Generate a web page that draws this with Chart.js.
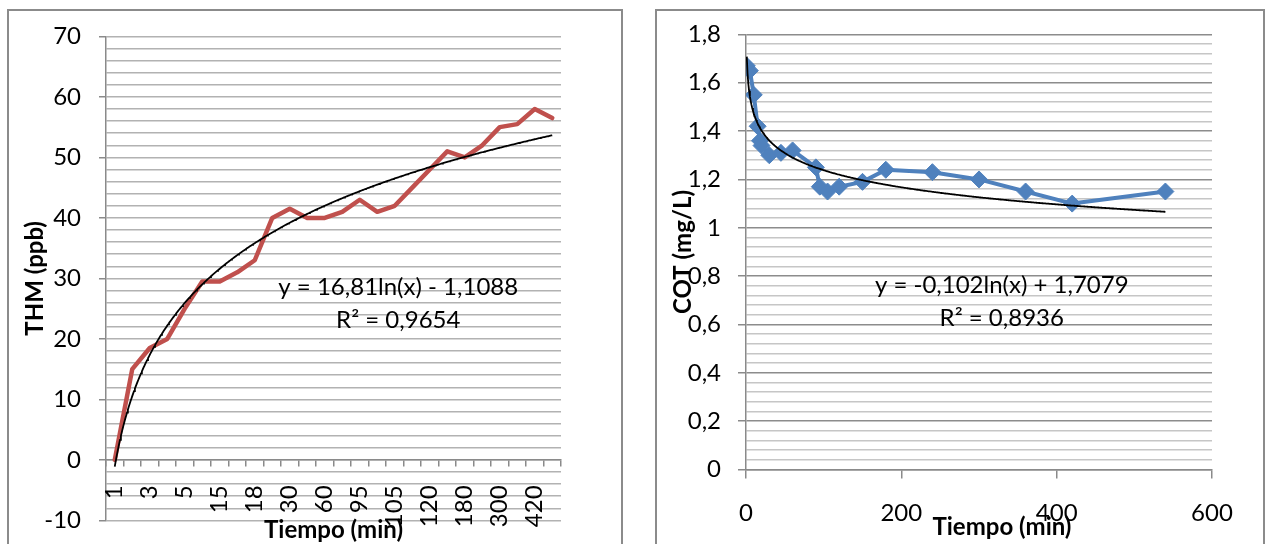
<!DOCTYPE html>
<html>
<head>
<meta charset="utf-8">
<script src="https://cdn.jsdelivr.net/npm/chart.js@4.4.1/dist/chart.umd.min.js"></script>
<style>
  html, body { margin: 0; padding: 0; background: #fff; width: 1272px; height: 544px; overflow: hidden; }
  .frame { position: absolute; border: 2px solid #8b8b8b; background: #fff; overflow: hidden; }
  #frameThm { left: 7px; top: 9px; width: 612px; height: 620px; }
  #frameCot { left: 655px; top: 9px; width: 606px; height: 620px; }
  canvas { display: block; position: absolute; left: 0; }
  #thmChart { top: -7.4px; }
  #cotChart { top: -8.2px; }
</style>
</head>
<body>
<div class="frame" id="frameThm"><canvas id="thmChart" width="612" height="620"></canvas></div>
<div class="frame" id="frameCot"><canvas id="cotChart" width="606" height="620"></canvas></div>
<script>
// Sampling times (min) used as categories on the THM chart
const categories = ['1', '2', '3', '4', '5', '10', '15', '16', '18', '20', '30', '45', '60',
                    '90', '95', '100', '105', '110', '120', '150', '180', '240', '300', '360', '420', '540'];
// Trihalomethanes (ppb)
const thm = [0, 15, 18.5, 20, 25, 29.5, 29.5, 31, 33, 40, 41.5, 40, 40, 41, 43, 41, 42, 45, 48, 51, 50, 52, 55, 55.5, 58, 56.5];
// Logarithmic fit for THM: y = a ln(x) + b (x = category index)
const thmFit = { a: 16.81, b: -1.1088, r2: 0.9654 };

// Total organic carbon: times (min) and values (mg/L)
const cotTime = [1, 5, 10, 15, 18, 20, 30, 45, 60, 90, 95, 105, 120, 150, 180, 240, 300, 360, 420, 540];
const cot = [1.67, 1.65, 1.55, 1.42, 1.36, 1.34, 1.30, 1.31, 1.32, 1.25, 1.17, 1.15, 1.17, 1.19, 1.24, 1.23, 1.20, 1.15, 1.10, 1.15];
// Logarithmic fit for COT
const cotFit = { a: -0.102, b: 1.7079, r2: 0.8936 };

// Axis tick settings
const thmAxis = { min: -10, max: 70, step: 2, major: 10 };
const cotAxis = { min: 0, max: 1.8, step: 0.04, major: 0.2 };
const timeAxis = { min: 0, max: 600, step: 200 };

Chart.defaults.font.family = 'Lato, "Liberation Sans", sans-serif';
Chart.defaults.color = '#000';

const comma = v => String(v).replace('.', ',');
const eqText = f => `y = ${comma(f.a)}ln(x) ${f.b < 0 ? '-' : '+'} ${comma(Math.abs(f.b))}`;
const r2Text = f => `R² = ${comma(f.r2)}`;

function logCurve(f, from, to, step) {
  const pts = [];
  for (let x = from; x <= to + 1e-9; x += step) pts.push({ x: x, y: f.a * Math.log(x) + f.b });
  return pts;
}

// Draws the trendline equation and R² at a point given in data units
function equationLabel(id, xScale, yScale, xv, yv, lines) {
  return {
    id: id,
    afterDatasetsDraw(chart) {
      const ctx = chart.ctx;
      const cx = chart.scales[xScale].getPixelForValue(xv);
      const cy = chart.scales[yScale].getPixelForValue(yv);
      ctx.save();
      ctx.font = '24px Lato, "Liberation Sans", sans-serif';
      ctx.fillStyle = '#000';
      ctx.textAlign = 'center';
      ctx.textBaseline = 'middle';
      lines.forEach((t, i) => ctx.fillText(t, cx, cy + i * 33));
      ctx.restore();
    }
  };
}

const axisGray = '#8a8a8a';
const titleFont = { size: 24, weight: 'bold' };
const tickFont = { size: 24 };
const isMajor = (v, m) => Math.abs(Math.round(v / m) * m - v) < 1e-6;

// ---- THM vs time (line chart on categories) ----
new Chart(document.getElementById('thmChart'), {
  type: 'line',
  data: {
    labels: categories,
    datasets: [
      {
        label: 'Log. (THM)',
        data: logCurve(thmFit, 1, categories.length, 0.05),
        xAxisID: 'xt', yAxisID: 'y',
        borderColor: '#000', borderWidth: 1.8,
        pointRadius: 0, fill: false, order: 0
      },
      {
        label: 'THM',
        data: thm,
        xAxisID: 'x', yAxisID: 'y',
        borderColor: '#C0504D', borderWidth: 4.5,
        borderJoinStyle: 'round', borderCapStyle: 'round',
        pointRadius: 0, fill: false, tension: 0, order: 1
      }
    ]
  },
  options: {
    responsive: false,
    animation: false,
    events: [],
    layout: { padding: { left: 0, top: 25, right: 60, bottom: 103.6 } },
    plugins: { legend: { display: false }, tooltip: { enabled: false } },
    scales: {
      y: {
        type: 'linear', position: 'left',
        min: thmAxis.min, max: thmAxis.max,
        afterFit: s => { s.width = 97; },
        ticks: {
          stepSize: thmAxis.step, autoSkip: false, padding: 18, font: tickFont, color: '#000',
          callback: v => isMajor(v, thmAxis.major) ? String(v) : ''
        },
        grid: {
          color: '#b2b2b2', lineWidth: 1.5, tickLength: 7,
          tickColor: c => isMajor(c.tick.value, thmAxis.major) ? axisGray : 'rgba(0,0,0,0)'
        },
        border: { color: axisGray, width: 1.5 },
        title: { display: true, text: 'THM (ppb)', font: titleFont, color: '#000', padding: { top: 11.6, bottom: 0 } }
      },
      x: {
        type: 'category', position: { y: 0 }, offset: true,
        afterFit: s => { s.height = 90; },
        ticks: {
          autoSkip: false, minRotation: 90, maxRotation: 90, padding: 19.5, font: tickFont, color: '#000',
          callback: (v, i) => i % 2 === 0 ? categories[i] : ''
        },
        grid: { offset: true, drawOnChartArea: false, tickLength: 6, color: axisGray, lineWidth: 1.5 },
        border: { color: axisGray, width: 1.5 },
        title: { display: true, text: 'Tiempo (min)', font: titleFont, color: '#000', padding: { top: 0, bottom: 5 } }
      },
      xt: { type: 'linear', display: false, min: 0.5, max: categories.length + 0.5 }
    }
  },
  plugins: [equationLabel('thmEquation', 'xt', 'y', 17.2, 28.5, [eqText(thmFit), r2Text(thmFit)])]
});

// ---- COT vs time (scatter with lines) ----
new Chart(document.getElementById('cotChart'), {
  type: 'scatter',
  data: {
    datasets: [
      {
        label: 'Log. (COT)',
        data: logCurve(cotFit, 1, cotTime[cotTime.length - 1], 1),
        showLine: true,
        borderColor: '#000', borderWidth: 1.8,
        pointRadius: 0, fill: false, order: 0
      },
      {
        label: 'COT',
        data: cotTime.map((t, i) => ({ x: t, y: cot[i] })),
        showLine: true,
        borderColor: '#4F81BD', backgroundColor: '#4F81BD', borderWidth: 4,
        borderJoinStyle: 'round',
        pointStyle: 'rectRot', pointRadius: 8.5, pointBorderWidth: 1,
        pointBorderColor: '#4F81BD', pointBackgroundColor: '#4F81BD',
        fill: false, order: 1
      }
    ]
  },
  options: {
    responsive: false,
    animation: false,
    events: [],
    layout: { padding: { left: 0, top: 23, right: 51, bottom: 73.5 } },
    plugins: { legend: { display: false }, tooltip: { enabled: false } },
    scales: {
      y: {
        type: 'linear', position: 'left',
        min: cotAxis.min, max: cotAxis.max,
        afterFit: s => { s.width = 89; },
        ticks: {
          stepSize: cotAxis.step, autoSkip: false, padding: 17, font: tickFont, color: '#000',
          callback: v => isMajor(v, cotAxis.major) ? comma(Number(v.toFixed(1))) : ''
        },
        grid: {
          lineWidth: 1.5, tickLength: 8,
          color: c => isMajor(c.tick.value, cotAxis.major) ? '#8c8c8c' : '#c6c6c6',
          tickColor: c => isMajor(c.tick.value, cotAxis.major) ? axisGray : 'rgba(0,0,0,0)'
        },
        border: { color: axisGray, width: 1.5 },
        title: { display: true, text: 'COT (mg/L)', font: titleFont, color: '#000', padding: { top: 11.6, bottom: 0 } }
      },
      x: {
        type: 'linear', position: 'bottom',
        min: timeAxis.min, max: timeAxis.max,
        afterFit: s => { s.height = 80; },
        ticks: { stepSize: timeAxis.step, padding: 20.3, font: tickFont, color: '#000' },
        grid: { drawOnChartArea: false, tickLength: 9, color: axisGray, lineWidth: 1.5 },
        border: { color: axisGray, width: 1.5 },
        title: {
          display: true, text: '\u00a0\u00a0\u00a0\u00a0\u00a0\u00a0\u00a0\u00a0Tiempo (min)',
          font: titleFont, color: '#000', padding: { top: 0, bottom: 8 }
        }
      }
    }
  },
  plugins: [equationLabel('cotEquation', 'x', 'y', 329.3, 0.7625, [eqText(cotFit), r2Text(cotFit)])]
});
</script>
</body>
</html>
